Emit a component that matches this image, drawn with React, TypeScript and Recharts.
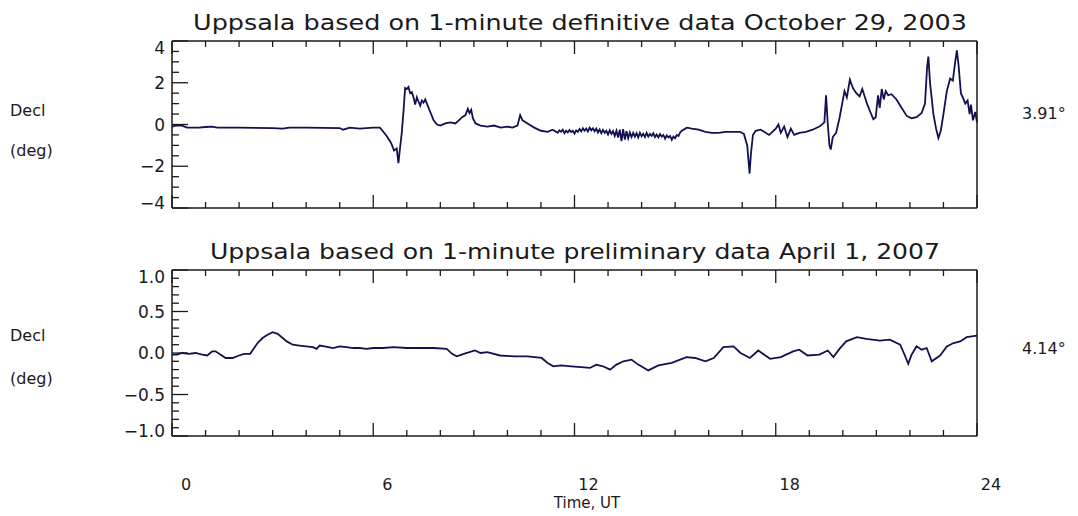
import { Customized, Line, LineChart, XAxis, YAxis } from "recharts";

// hours, UT
const hourTicks = [0, 1, 2, 3, 4, 5, 6, 7, 8, 9, 10, 11, 12, 13, 14, 15, 16, 17, 18, 19, 20, 21, 22, 23, 24];
const hourLabels = [0, 6, 12, 18, 24];

// October 29, 2003 - definitive 1-minute declination, [hour, deg relative to 3.91°]
const stormReadings: [number, number][] = [
  [0.0, -0.1], [0.1, -0.05], [0.3, -0.05], [0.45, -0.15], [0.8, -0.15], [1.0, -0.12], [1.2, -0.1], [1.35, -0.15],
  [2.0, -0.15], [3.0, -0.17], [3.3, -0.2], [3.5, -0.15], [4.0, -0.15], [5.0, -0.17], [5.1, -0.25], [5.3, -0.15],
  [5.6, -0.2], [6.0, -0.15], [6.2, -0.15], [6.3, -0.35], [6.4, -0.55], [6.5, -0.8], [6.55, -0.95], [6.62, -1.25],
  [6.7, -1.15], [6.75, -1.85], [6.78, -1.4], [6.85, -0.4], [6.9, 0.6], [6.95, 1.75], [7.0, 1.7], [7.05, 1.8],
  [7.1, 1.5], [7.15, 1.55], [7.2, 1.3], [7.25, 0.95], [7.3, 1.3], [7.35, 1.1], [7.4, 0.9], [7.45, 1.15],
  [7.5, 1.05], [7.55, 1.2], [7.6, 1.0], [7.7, 0.6], [7.8, 0.2], [7.9, 0.0], [8.0, -0.05], [8.15, 0.05],
  [8.3, 0.1], [8.45, 0.05], [8.55, 0.2], [8.65, 0.35], [8.75, 0.45], [8.82, 0.75], [8.87, 0.55], [8.92, 0.7],
  [8.97, 0.3], [9.05, 0.05], [9.2, -0.05], [9.4, -0.1], [9.6, -0.05], [9.8, -0.15], [10.0, -0.1], [10.15, -0.15],
  [10.3, -0.05], [10.38, 0.45], [10.45, 0.2], [10.6, 0.05], [10.8, -0.15], [11.0, -0.3], [11.2, -0.35], [11.35, -0.25],
  [11.5, -0.4], [11.55, -0.28], [11.6, -0.35], [11.65, -0.25], [11.7, -0.42], [11.75, -0.3], [11.8, -0.38], [11.85, -0.26],
  [11.9, -0.36], [11.95, -0.3], [12.0, -0.44], [12.05, -0.28], [12.1, -0.35], [12.15, -0.22], [12.2, -0.33], [12.25, -0.18],
  [12.3, -0.3], [12.35, -0.2], [12.4, -0.34], [12.45, -0.15], [12.5, -0.28], [12.55, -0.18], [12.6, -0.32], [12.65, -0.2],
  [12.7, -0.38], [12.75, -0.24], [12.8, -0.42], [12.85, -0.26], [12.9, -0.4], [12.95, -0.3], [13.0, -0.48], [13.05, -0.28],
  [13.1, -0.45], [13.15, -0.32], [13.2, -0.55], [13.25, -0.3], [13.3, -0.62], [13.35, -0.25], [13.4, -0.8], [13.45, -0.22],
  [13.5, -0.72], [13.55, -0.32], [13.6, -0.66], [13.65, -0.38], [13.7, -0.6], [13.75, -0.4], [13.8, -0.58], [13.85, -0.42],
  [13.9, -0.62], [13.95, -0.4], [14.0, -0.56], [14.05, -0.44], [14.1, -0.6], [14.15, -0.4], [14.2, -0.58], [14.25, -0.45],
  [14.3, -0.55], [14.35, -0.42], [14.4, -0.6], [14.45, -0.48], [14.5, -0.62], [14.55, -0.46], [14.6, -0.58], [14.65, -0.5],
  [14.7, -0.68], [14.75, -0.52], [14.8, -0.62], [14.85, -0.55], [14.9, -0.74], [14.95, -0.58], [15.0, -0.66], [15.05, -0.5],
  [15.1, -0.55], [15.15, -0.38], [15.2, -0.3], [15.35, -0.15], [15.5, -0.2], [15.7, -0.25], [15.9, -0.35], [16.1, -0.4],
  [16.3, -0.4], [16.5, -0.35], [16.7, -0.35], [16.93, -0.35], [17.05, -0.45], [17.15, -1.0], [17.22, -2.35], [17.26, -1.4],
  [17.32, -0.5], [17.4, -0.3], [17.55, -0.25], [17.7, -0.4], [17.8, -0.5], [17.9, -0.35], [18.0, -0.2], [18.08, 0.0],
  [18.15, -0.4], [18.25, -0.1], [18.35, -0.6], [18.45, -0.2], [18.55, -0.5], [18.7, -0.4], [18.9, -0.35], [19.1, -0.25],
  [19.3, -0.1], [19.45, 0.1], [19.5, 1.4], [19.55, 0.05], [19.6, -1.0], [19.64, -1.2], [19.7, -0.6], [19.8, -0.4],
  [19.9, 0.3], [19.98, 1.0], [20.05, 1.6], [20.12, 1.3], [20.21, 2.15], [20.3, 1.75], [20.4, 1.5], [20.5, 1.35],
  [20.58, 1.7], [20.65, 1.35], [20.72, 1.0], [20.82, 0.6], [20.91, 0.25], [20.98, 0.35], [21.05, 1.4], [21.1, 0.8],
  [21.16, 1.7], [21.22, 1.2], [21.28, 1.6], [21.35, 1.4], [21.45, 1.45], [21.6, 1.2], [21.75, 0.8], [21.91, 0.4],
  [22.05, 0.3], [22.2, 0.35], [22.35, 0.55], [22.45, 1.0], [22.51, 2.7], [22.55, 3.25], [22.6, 2.0], [22.7, 0.5],
  [22.78, -0.2], [22.85, -0.65], [22.92, -0.3], [23.0, 0.5], [23.1, 1.6], [23.2, 2.2], [23.28, 2.1], [23.35, 3.0],
  [23.4, 3.55], [23.45, 2.85], [23.52, 1.5], [23.6, 1.2], [23.65, 1.0], [23.72, 1.15], [23.78, 0.5], [23.82, 0.95],
  [23.88, 0.2], [23.95, 0.6], [24.0, 0.1],
];

// April 1, 2007 - preliminary 1-minute declination, [hour, deg relative to 4.14°]
const quietReadings: [number, number][] = [
  [0.0, -0.02], [0.15, -0.02], [0.3, 0.0], [0.5, -0.01], [0.7, 0.0], [0.9, -0.02], [1.05, -0.03], [1.2, 0.02],
  [1.3, 0.02], [1.45, -0.02], [1.6, -0.06], [1.8, -0.06], [2.0, -0.03], [2.15, -0.01], [2.33, -0.01], [2.45, 0.06],
  [2.55, 0.12], [2.7, 0.18], [2.85, 0.22], [3.0, 0.25], [3.15, 0.23], [3.3, 0.18], [3.42, 0.14], [3.6, 0.1],
  [3.8, 0.09], [4.0, 0.08], [4.2, 0.07], [4.31, 0.05], [4.4, 0.09], [4.55, 0.08], [4.8, 0.06], [5.0, 0.08],
  [5.2, 0.07], [5.4, 0.06], [5.6, 0.06], [5.8, 0.05], [6.0, 0.06], [6.3, 0.06], [6.6, 0.07], [7.0, 0.06],
  [7.4, 0.06], [7.8, 0.06], [8.19, 0.05], [8.35, -0.01], [8.49, -0.04], [8.7, -0.01], [9.03, 0.03], [9.2, 0.0],
  [9.4, 0.01], [9.78, -0.03], [10.2, -0.04], [10.6, -0.04], [11.02, -0.06], [11.2, -0.12], [11.37, -0.16], [11.6, -0.15],
  [11.9, -0.16], [12.2, -0.17], [12.46, -0.18], [12.65, -0.14], [12.85, -0.16], [13.06, -0.2], [13.25, -0.14], [13.46, -0.1],
  [13.7, -0.08], [13.9, -0.14], [14.2, -0.21], [14.5, -0.15], [14.9, -0.12], [15.34, -0.05], [15.6, -0.06], [15.9, -0.1],
  [16.15, -0.06], [16.44, 0.07], [16.74, 0.08], [16.95, 0.0], [17.23, -0.06], [17.48, 0.03], [17.83, -0.07], [18.15, -0.05],
  [18.52, 0.02], [18.7, 0.04], [18.95, -0.03], [19.3, -0.02], [19.55, 0.03], [19.72, -0.05], [19.9, 0.05], [20.1, 0.14],
  [20.42, 0.19], [20.7, 0.17], [21.1, 0.15], [21.4, 0.16], [21.71, 0.1], [21.85, -0.03], [21.95, -0.13], [22.05, -0.02],
  [22.2, 0.08], [22.35, 0.04], [22.5, 0.06], [22.65, -0.1], [22.9, -0.03], [23.1, 0.08], [23.3, 0.12], [23.5, 0.14],
  [23.69, 0.19], [24.0, 0.21],
];

const stormTicks = [-4, -3.5, -3, -2.5, -2, -1.5, -1, -0.5, 0, 0.5, 1, 1.5, 2, 2.5, 3, 3.5, 4];
const stormMajor = [-4, -2, 0, 2, 4];
const quietTicks = [-1, -0.9, -0.8, -0.7, -0.6, -0.5, -0.4, -0.3, -0.2, -0.1, 0, 0.1, 0.2, 0.3, 0.4, 0.5, 0.6, 0.7, 0.8, 0.9, 1];
const quietMajor = [-1, -0.5, 0, 0.5, 1];

const stormData = stormReadings.map(([t, v]) => ({ t, v }));
const quietData = quietReadings.map(([t, v]) => ({ t, v }));

const INK = "#1a1a1a";
const LINE = "#111150";
const FONT = "'DejaVu Sans', sans-serif";

const isIn = (list: number[], v: number) => list.some((m) => Math.abs(m - v) < 1e-6);
const minus = (s: string) => s.replace("-", "\u2212");

function leftTick(major: number[], lo: number, hi: number, digits: number) {
  return (props: any) => {
    const { x, y, payload } = props;
    const v = Number(payload.value);
    const big = isIn(major, v);
    const dy = v === hi ? 7 : v === lo ? -5 : 0;
    return (
      <g>
        <line x1={x} x2={x + (big ? 16 : 7)} y1={y} y2={y} stroke={INK} strokeWidth={1.3} />
        {big && (
          <text x={x - 7} y={y + dy} dy="0.36em" textAnchor="end" fontSize={17} fontFamily={FONT} fill={INK}>
            {minus(v.toFixed(digits))}
          </text>
        )}
      </g>
    );
  };
}

function rightTick(major: number[]) {
  return (props: any) => {
    const { x, y, payload } = props;
    const big = isIn(major, Number(payload.value));
    return <line x1={x} x2={x - (big ? 16 : 7)} y1={y} y2={y} stroke={INK} strokeWidth={1.3} />;
  };
}

function topTick(props: any) {
  const { x, y, payload } = props;
  const big = isIn(hourLabels, Number(payload.value));
  return <line x1={x} x2={x} y1={y} y2={y + (big ? 13 : 6)} stroke={INK} strokeWidth={1.3} />;
}

function bottomTick(withLabels: boolean) {
  return (props: any) => {
    const { x, y, payload } = props;
    const v = Number(payload.value);
    const big = isIn(hourLabels, v);
    return (
      <g>
        <line x1={x} x2={x} y1={y} y2={y - (big ? 13 : 6)} stroke={INK} strokeWidth={1.3} />
        {withLabels && big && (
          <text x={x + 14} y={y + 48} dy="0.36em" textAnchor="middle" fontSize={16} fontFamily={FONT} fill={INK}>
            {v}
          </text>
        )}
      </g>
    );
  };
}

function Panel({
  data,
  ticks,
  major,
  domain,
  digits,
  title,
  titleX,
  titleWidth,
  baseline,
  height,
  bottom,
  top,
  labelY,
  sideY,
  xLabels,
}: {
  data: { t: number; v: number }[];
  ticks: number[];
  major: number[];
  domain: [number, number];
  digits: number;
  title: string;
  titleX: number;
  titleWidth: number;
  baseline: string;
  height: number;
  bottom: number;
  top: number;
  labelY: [number, number];
  sideY: number;
  xLabels: boolean;
}) {
  // axes are 1px thick so they still render; margins are reduced by the same amount
  return (
    <LineChart width={1078} height={height} data={data} margin={{ top: top - 1, right: 100, bottom: bottom - 1, left: 171 }}>
      <XAxis
        xAxisId="top"
        orientation="top"
        type="number"
        dataKey="t"
        domain={[0, 24]}
        ticks={hourTicks}
        interval={0}
        height={1}
        tickLine={false}
        tickSize={0}
        tickMargin={0}
        tick={topTick}
        axisLine={{ stroke: INK, strokeWidth: 1.5 }}
      />
      <XAxis
        xAxisId="bottom"
        orientation="bottom"
        type="number"
        dataKey="t"
        domain={[0, 24]}
        ticks={hourTicks}
        interval={0}
        height={1}
        tickLine={false}
        tickSize={0}
        tickMargin={0}
        tick={bottomTick(xLabels)}
        axisLine={{ stroke: INK, strokeWidth: 1.5 }}
      />
      <YAxis
        yAxisId="left"
        orientation="left"
        type="number"
        domain={domain}
        ticks={ticks}
        interval={0}
        width={1}
        tickLine={false}
        tickSize={0}
        tickMargin={0}
        tick={leftTick(major, domain[0], domain[1], digits)}
        axisLine={{ stroke: INK, strokeWidth: 1.5 }}
      />
      <YAxis
        yAxisId="right"
        orientation="right"
        type="number"
        domain={domain}
        ticks={ticks}
        interval={0}
        width={1}
        tickLine={false}
        tickSize={0}
        tickMargin={0}
        tick={rightTick(major)}
        axisLine={{ stroke: INK, strokeWidth: 1.5 }}
      />
      <Line
        xAxisId="bottom"
        yAxisId="left"
        type="linear"
        dataKey="v"
        stroke={LINE}
        strokeWidth={1.8}
        strokeLinejoin="miter"
        dot={false}
        isAnimationActive={false}
      />
      <Customized
        component={() => (
          <g fontFamily={FONT} fill={INK}>
            <text x={titleX} y={top - 11} fontSize={21} textLength={titleWidth} lengthAdjust="spacingAndGlyphs">
              {title}
            </text>
            <text x={10} y={labelY[0]} dy="0.36em" fontSize={16}>
              Decl
            </text>
            <text x={10} y={labelY[1]} dy="0.36em" fontSize={16}>
              (deg)
            </text>
            <text x={1022} y={sideY} dy="0.36em" fontSize={16}>
              {baseline}
            </text>
          </g>
        )}
      />
    </LineChart>
  );
}

export default function App() {
  return (
    <div style={{ position: "absolute", left: 0, top: 0, width: 1078, height: 516, background: "#fff" }}>
      <div style={{ position: "absolute", left: 0, top: 0 }}>
        <Panel
          data={stormData}
          ticks={stormTicks}
          major={stormMajor}
          domain={[-4, 4]}
          digits={0}
          title="Uppsala based on 1-minute definitive data October 29, 2003"
          titleX={193}
          titleWidth={774}
          baseline="3.91°"
          height={230}
          top={41}
          bottom={22}
          labelY={[110, 150]}
          sideY={113}
          xLabels={false}
        />
      </div>
      <div style={{ position: "absolute", left: 0, top: 230 }}>
        <Panel
          data={quietData}
          ticks={quietTicks}
          major={quietMajor}
          domain={[-1, 1]}
          digits={1}
          title="Uppsala based on 1-minute preliminary data April 1, 2007"
          titleX={210}
          titleWidth={730}
          baseline="4.14°"
          height={286}
          top={40}
          bottom={80}
          labelY={[105, 148]}
          sideY={118}
          xLabels={true}
        />
        <div
          style={{
            position: "absolute",
            left: 0,
            top: 264,
            width: 1174,
            textAlign: "center",
            fontFamily: FONT,
            fontSize: 15,
            color: INK,
          }}
        >
          Time, UT
        </div>
      </div>
    </div>
  );
}
